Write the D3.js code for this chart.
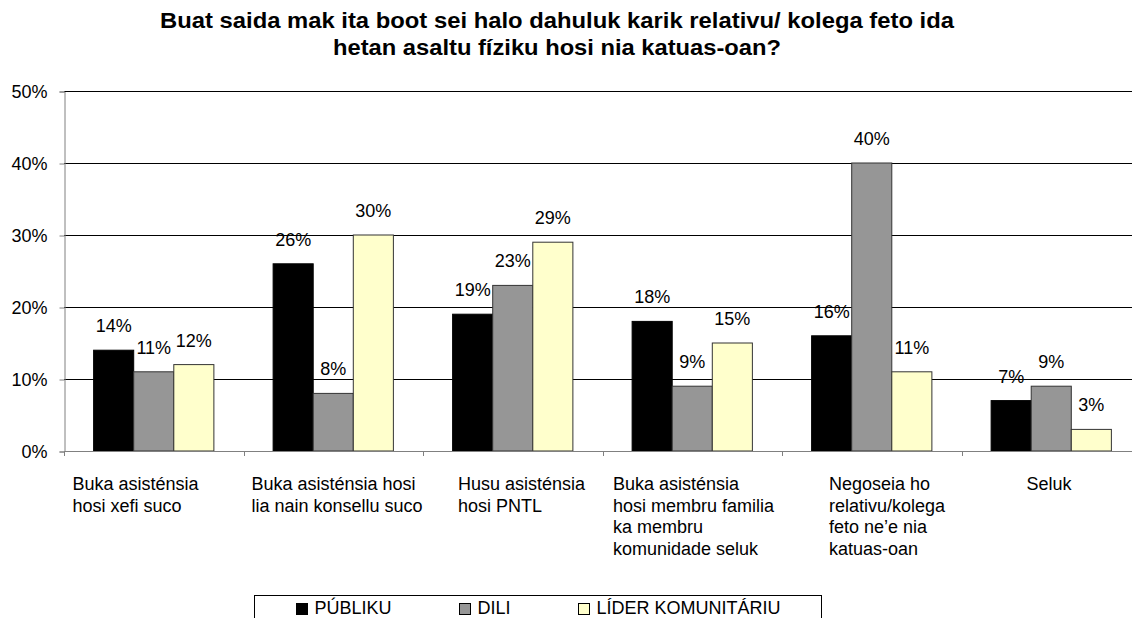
<!DOCTYPE html>
<html>
<head>
<meta charset="utf-8">
<script src="https://cdn.jsdelivr.net/npm/d3@7"></script>
<style>
  html, body { margin: 0; padding: 0; background: #fff; }
  svg { display: block; font-family: "Liberation Sans", Arial, sans-serif; }
</style>
</head>
<body>
<svg id="chart" width="1132" height="618"></svg>
<script>
// ---- data ----
const titleLines = [
  "Buat saida mak ita boot sei halo dahuluk karik relativu/ kolega feto ida",
  "hetan asaltu fíziku hosi nia katuas-oan?"
];
const categories = [
  ["Buka asisténsia", "hosi xefi suco"],
  ["Buka asisténsia hosi", "lia nain konsellu suco"],
  ["Husu asisténsia", "hosi PNTL"],
  ["Buka asisténsia", "hosi membru familia", "ka membru", "komunidade seluk"],
  ["Negoseia ho", "relativu/kolega", "feto ne’e nia", "katuas-oan"],
  ["Seluk"]
];
const seriesNames = ["PÚBLIKU", "DILI", "LÍDER KOMUNITÁRIU"];
const publiku = [14, 26, 19, 18, 16, 7];
const dili    = [11, 8, 23, 9, 40, 9];
const lider   = [12, 30, 29, 15, 11, 3];
const yTicks  = [0, 10, 20, 30, 40, 50];

// ---- layout / style ----
const colors = ["#000000", "#969696", "#FFFFCC"];
const mLeft = 64, mRight = 1141, mTop = 91, mBottom = 451;
const fontSize = 18;
const labelDx = [8.5, 8, 35, 10.5, 47, 65];

const svg = d3.select("#chart");
const series = [publiku, dili, lider];
const idx = d3.range(categories.length);

const x0 = d3.scaleBand().domain(idx).range([mLeft, mRight])
  .paddingInner(0.33).paddingOuter(0.165);
const x1 = d3.scaleBand().domain(d3.range(series.length)).range([0, x0.bandwidth()]);
const y = d3.scaleLinear().domain([0, 50]).range([mBottom, mTop]);
const step = x0.step();

// gridlines
svg.append("g").selectAll("line").data(yTicks.filter(d => d > 0)).join("line")
  .attr("x1", mLeft).attr("x2", 1132)
  .attr("y1", d => Math.round(y(d)) + 0.5).attr("y2", d => Math.round(y(d)) + 0.5)
  .attr("stroke", "#000").attr("stroke-width", 1).attr("shape-rendering", "crispEdges");

// y axis
const yAxis = d3.axisLeft(y).tickValues(yTicks).tickSize(5).tickPadding(12)
  .tickFormat(d => d + "%");
const gy = svg.append("g").attr("transform", `translate(${mLeft + 0.5},0.5)`).call(yAxis);
gy.select(".domain").attr("stroke", "#808080");
gy.selectAll(".tick line").attr("stroke", "#808080");
gy.selectAll(".tick text").attr("font-size", fontSize).attr("fill", "#000")
  .attr("font-family", "Liberation Sans, Arial, sans-serif").attr("dy", "0.36em");

// bars
const groups = svg.append("g").selectAll("g").data(idx).join("g")
  .attr("transform", i => `translate(${x0(i)},0)`);
groups.selectAll("rect").data(i => series.map((s, k) => ({ k, v: s[i] }))).join("rect")
  .attr("x", d => x1(d.k))
  .attr("y", d => y(d.v))
  .attr("width", x1.bandwidth())
  .attr("height", d => y(0) - y(d.v))
  .attr("fill", d => colors[d.k])
  .attr("stroke", d => d.k === 0 ? "#000" : "#333")
  .attr("stroke-width", 1);

// value labels
groups.selectAll("text").data(i => series.map((s, k) => ({ k, v: s[i] }))).join("text")
  .attr("x", d => x1(d.k) + x1.bandwidth() / 2)
  .attr("y", d => y(d.v) - 18)
  .attr("text-anchor", "middle")
  .attr("font-size", fontSize)
  .attr("fill", "#000")
  .text(d => d.v + "%");

// x axis line and ticks
svg.append("line").attr("x1", mLeft).attr("x2", 1132)
  .attr("y1", mBottom + 0.5).attr("y2", mBottom + 0.5)
  .attr("stroke", "#808080").attr("shape-rendering", "crispEdges");
svg.append("g").selectAll("line").data(d3.range(categories.length + 1)).join("line")
  .attr("x1", i => Math.round(mLeft + i * step) + 0.5)
  .attr("x2", i => Math.round(mLeft + i * step) + 0.5)
  .attr("y1", mBottom).attr("y2", mBottom + 5)
  .attr("stroke", "#808080").attr("shape-rendering", "crispEdges");

// category labels
svg.append("g").selectAll("text").data(idx).join("text")
  .attr("x", i => mLeft + i * step + labelDx[i])
  .attr("y", 490)
  .attr("font-size", fontSize)
  .attr("fill", "#000")
  .each(function (i) {
    d3.select(this).selectAll("tspan").data(categories[i]).join("tspan")
      .attr("x", mLeft + i * step + labelDx[i])
      .attr("dy", (d, j) => j === 0 ? 0 : 21.7)
      .text(d => d);
  });

// title
const titleWidths = [794, 448];
svg.append("g").selectAll("text").data(titleLines).join("text")
  .attr("x", 557)
  .attr("y", (d, j) => 28.3 + j * 26.7)
  .attr("text-anchor", "middle")
  .attr("font-size", 22)
  .attr("font-weight", "bold")
  .attr("fill", "#000")
  .attr("textLength", (d, j) => titleWidths[j])
  .attr("lengthAdjust", "spacingAndGlyphs")
  .text(d => d);

// legend
const legend = svg.append("g");
legend.append("rect").attr("x", 254.5).attr("y", 595.5).attr("width", 567).attr("height", 40)
  .attr("fill", "#fff").attr("stroke", "#000");
const items = legend.selectAll("g").data(seriesNames).join("g");
items.append("rect").attr("width", 11).attr("height", 11).attr("y", 603.5)
  .attr("fill", (d, k) => colors[k]).attr("stroke", "#000").attr("stroke-width", 1);
items.append("text").attr("x", 18).attr("y", 614).attr("font-size", fontSize)
  .attr("fill", "#000").text(d => d);
const widths = items.nodes().map(n => n.querySelector("text").getComputedTextLength() + 18);
const gap = 68;
const total = d3.sum(widths) + gap * (widths.length - 1);
let cx = 538 - total / 2;
items.each(function (d, k) {
  d3.select(this).attr("transform", `translate(${Math.round(cx) + 0.5},0)`);
  cx += widths[k] + gap;
});
</script>
</body>
</html>
